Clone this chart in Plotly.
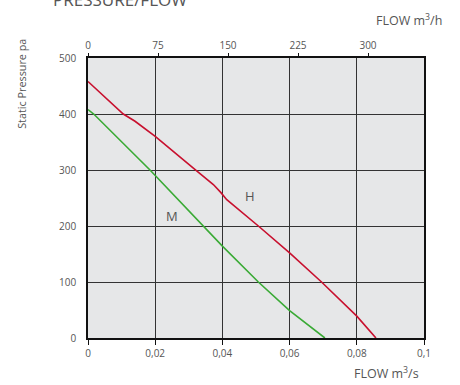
import plotly.graph_objects as go

# Data
flow_h = [0, 0.0105, 0.014, 0.02, 0.0318, 0.0373, 0.0395, 0.0413,
          0.0507, 0.060, 0.0695, 0.080, 0.0857]
pres_h = [458, 400, 387, 360, 301, 274, 260, 247, 200, 152, 100, 39, 0]
flow_m = [0, 0.0017, 0.01845, 0.0303, 0.0343, 0.040, 0.0507, 0.060, 0.0705]
pres_m = [408, 400, 300, 226, 200, 164, 100, 49, 0]

x_ticks = [0, 0.02, 0.04, 0.06, 0.08, 0.1]
x_ticktext = ["0", "0,02", "0,04", "0,06", "0,08", "0,1"]
x2_ticks = [0, 75, 150, 225, 300]
y_ticks = [0, 100, 200, 300, 400, 500]

FONT = "Open Sans"
TXT = "#555555"
GRID = "#333333"

fig = go.Figure()
fig.add_trace(go.Scatter(x=flow_h, y=pres_h, mode="lines",
                         line=dict(color="#c8102e", width=1.6), showlegend=False))
fig.add_trace(go.Scatter(x=flow_m, y=pres_m, mode="lines",
                         line=dict(color="#3aaa35", width=1.6), showlegend=False))
# dummy trace for top axis
fig.add_trace(go.Scatter(x=[0, 360], y=[None, None], xaxis="x2", mode="lines",
                         showlegend=False, hoverinfo="skip"))

fig.update_layout(
    width=460, height=385,
    margin=dict(l=88, r=36, t=58, b=47),
    paper_bgcolor="white",
    plot_bgcolor="#e6e7e8",
    font=dict(family=FONT, color=TXT, size=10),
    xaxis=dict(range=[0, 0.1], tickvals=x_ticks, ticktext=x_ticktext,
               showgrid=True, gridcolor=GRID, gridwidth=1.3,
               showline=True, linecolor="#111111", linewidth=1.5, mirror=True,
               ticks="outside", ticklen=5, tickcolor="#111111", tickwidth=1.2,
               zeroline=False, tickfont=dict(size=10, color=TXT)),
    xaxis2=dict(range=[0, 360], overlaying="x", side="top", tickvals=x2_ticks,
                showgrid=False, showline=False, zeroline=False,
                ticks="outside", ticklen=4, tickcolor="#111111", tickwidth=1.2,
                tickfont=dict(size=10, color=TXT)),
    yaxis=dict(range=[0, 500], tickvals=y_ticks,
               showgrid=True, gridcolor=GRID, gridwidth=1.3,
               showline=True, linecolor="#111111", linewidth=1.5, mirror=True,
               ticks="", zeroline=False, ticklabelstandoff=8,
               tickfont=dict(size=10, color=TXT)),
    annotations=[
        dict(text="PRESSURE/FLOW", xref="paper", yref="paper", x=-0.11, y=1.161,
             xanchor="left", yanchor="bottom", showarrow=False,
             font=dict(size=17, color=TXT)),
        dict(text="FLOW m<sup>3</sup>/h", xref="paper", yref="paper", x=1.06, y=1.095,
             xanchor="right", yanchor="bottom", showarrow=False,
             font=dict(size=12.5, color=TXT)),
        dict(text="FLOW m<sup>3</sup>/s", xref="paper", yref="paper", x=0.99, y=-0.085,
             xanchor="right", yanchor="top", showarrow=False,
             font=dict(size=12.5, color=TXT)),
        dict(text="Static Pressure pa", xref="paper", yref="paper", x=-0.2, y=1.075,
             xanchor="center", yanchor="top", textangle=-90, showarrow=False,
             font=dict(size=10.8, color=TXT)),
        dict(text="H", x=0.0482, y=253, showarrow=False, font=dict(size=13, color=TXT)),
        dict(text="M", x=0.0250, y=218, showarrow=False, font=dict(size=13, color=TXT)),
    ],
)

fig.write_html("out.html", config={"displayModeBar": False},
               post_script="document.body.style.margin='0';")
